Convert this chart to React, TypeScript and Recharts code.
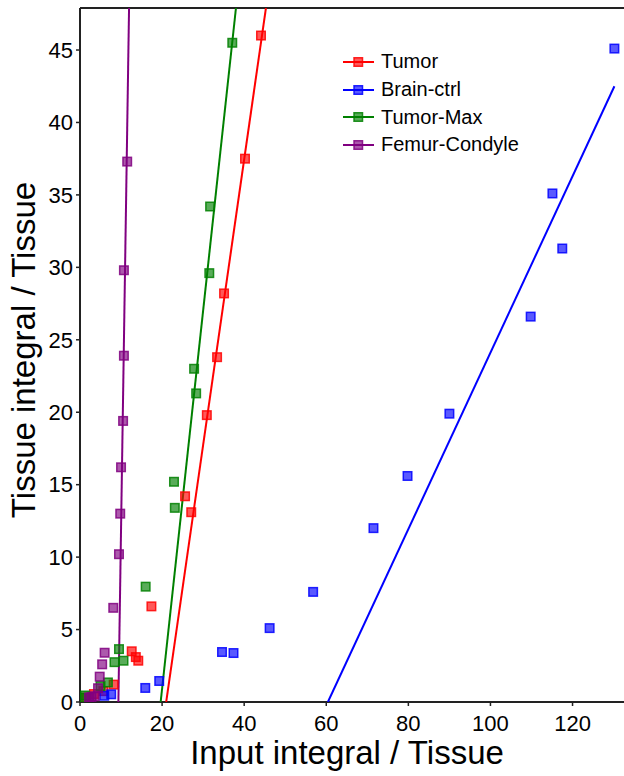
import React from 'react';
import { ScatterChart, Scatter, XAxis, YAxis, ReferenceLine } from 'recharts';

// measured points (input integral, tissue integral)
const tumor = [
  { x: 44.1, y: 46.0 }, { x: 40.2, y: 37.5 }, { x: 35.1, y: 28.2 }, { x: 33.4, y: 23.8 },
  { x: 30.9, y: 19.8 }, { x: 25.6, y: 14.2 }, { x: 27.1, y: 13.1 }, { x: 17.4, y: 6.6 },
  { x: 12.6, y: 3.5 }, { x: 13.6, y: 3.1 }, { x: 14.2, y: 2.85 }, { x: 8.2, y: 1.2 },
  { x: 5.7, y: 0.75 }, { x: 3.4, y: 0.55 }, { x: 1.5, y: 0.3 },
];
const brainCtrl = [
  { x: 130.2, y: 45.1 }, { x: 115.1, y: 35.1 }, { x: 117.5, y: 31.3 }, { x: 109.8, y: 26.6 },
  { x: 90.0, y: 19.9 }, { x: 79.8, y: 15.6 }, { x: 71.5, y: 12.0 }, { x: 56.8, y: 7.6 },
  { x: 46.2, y: 5.1 }, { x: 34.6, y: 3.45 }, { x: 37.4, y: 3.38 }, { x: 19.3, y: 1.45 },
  { x: 15.9, y: 0.97 }, { x: 7.6, y: 0.53 }, { x: 5.9, y: 0.43 },
];
const tumorMax = [
  { x: 37.1, y: 45.5 }, { x: 31.7, y: 34.2 }, { x: 31.5, y: 29.6 }, { x: 27.8, y: 23.0 },
  { x: 28.3, y: 21.3 }, { x: 22.9, y: 15.2 }, { x: 23.1, y: 13.4 }, { x: 16.0, y: 7.96 },
  { x: 9.5, y: 3.65 }, { x: 10.6, y: 2.85 }, { x: 8.4, y: 2.75 }, { x: 6.8, y: 1.35 },
  { x: 5.0, y: 1.1 }, { x: 1.2, y: 0.45 }, { x: 0.4, y: 0.3 },
];
const femurCondyle = [
  { x: 11.5, y: 37.3 }, { x: 10.7, y: 29.8 }, { x: 10.7, y: 23.9 }, { x: 10.5, y: 19.4 },
  { x: 10.0, y: 16.2 }, { x: 9.8, y: 13.0 }, { x: 9.5, y: 10.2 }, { x: 8.1, y: 6.5 },
  { x: 6.0, y: 3.4 }, { x: 5.4, y: 2.6 }, { x: 4.8, y: 1.75 }, { x: 4.4, y: 0.95 },
  { x: 3.6, y: 0.4 }, { x: 2.8, y: 0.35 }, { x: 2.2, y: 0.3 },
];

// fitted lines, end points
const tumorFit = [{ x: 21.0, y: 0 }, { x: 45.3, y: 47.9 }];
const brainCtrlFit = [{ x: 60.4, y: 0 }, { x: 130.2, y: 42.5 }];
const tumorMaxFit = [{ x: 19.65, y: 0 }, { x: 38.0, y: 47.9 }];
const femurCondyleFit = [{ x: 9.35, y: 0 }, { x: 11.95, y: 47.9 }];

const xTicks = [0, 20, 40, 60, 80, 100, 120];
const yTicks = [0, 5, 10, 15, 20, 25, 30, 35, 40, 45];

const X_MAX = 134;
const Y_MAX = 47.9;

const series = [
  { name: 'Tumor', color: '#ff0000', points: tumor, fit: tumorFit },
  { name: 'Brain-ctrl', color: '#0000ff', points: brainCtrl, fit: brainCtrlFit },
  { name: 'Tumor-Max', color: '#008000', points: tumorMax, fit: tumorMaxFit },
  { name: 'Femur-Condyle', color: '#800080', points: femurCondyle, fit: femurCondyleFit },
];

const FONT = '"Liberation Sans", Arial, sans-serif';

const squareShape = (color: string) => (props: any) => {
  const { cx, cy } = props;
  if (cx == null || cy == null) return <g />;
  return (
    <rect x={cx - 4.25} y={cy - 4.25} width={8.5} height={8.5}
      fill={color} fillOpacity={0.65} stroke={color} strokeOpacity={0.85} strokeWidth={1.5} />
  );
};

const noShape = () => <g />;

// legend drawn as plain html over the chart so it takes no room from the plot
const LegendBox = () => (
  <div style={{ position: 'absolute', left: 343, top: 48, fontFamily: FONT, fontSize: 20, color: '#000' }}>
    {series.map((s) => (
      <div key={s.name} style={{ display: 'flex', alignItems: 'center', height: 27.7 }}>
        <svg width={38} height={14} style={{ display: 'block' }}>
          <line x1={0} y1={7} x2={31} y2={7} stroke={s.color} strokeWidth={2} />
          <rect x={11} y={2.75} width={8.5} height={8.5} fill={s.color} fillOpacity={0.65}
            stroke={s.color} strokeOpacity={0.85} strokeWidth={1.5} />
        </svg>
        <span>{s.name}</span>
      </div>
    ))}
  </div>
);

const YTitle = () => (
  <text x={35} y={350} transform="rotate(-90 35 350)" textAnchor="middle"
    fontFamily={FONT} fontSize={33} fill="#000">
    Tissue integral / Tissue
  </text>
);

const XTitle = () => (
  <text x={347} y={764} textAnchor="middle" fontFamily={FONT} fontSize={33} fill="#000">
    Input integral / Tissue
  </text>
);

export default function App() {
  return (
    <div style={{ position: 'absolute', left: 0, top: 0, width: 624, height: 776, overflow: 'hidden', background: '#fff' }}>
      <ScatterChart width={640} height={776} margin={{ top: 8, right: 10, bottom: 0, left: 0 }}>
        <XAxis type="number" dataKey="x" domain={[0, X_MAX]} ticks={xTicks} allowDataOverflow
          height={74} tickSize={4} tickMargin={9}
          axisLine={{ stroke: '#222', strokeWidth: 2 }} tickLine={{ stroke: '#222', strokeWidth: 1.5 }}
          tick={{ fontFamily: FONT, fontSize: 22, fill: '#000' }}
          label={{ content: XTitle }} />
        <YAxis type="number" dataKey="y" domain={[0, Y_MAX]} ticks={yTicks} allowDataOverflow
          width={80} tickSize={4} tickMargin={3}
          axisLine={{ stroke: '#222', strokeWidth: 2 }} tickLine={{ stroke: '#222', strokeWidth: 1.5 }}
          tick={{ fontFamily: FONT, fontSize: 22, fill: '#000' }}
          label={{ content: YTitle }} />
        <ReferenceLine y={Y_MAX} stroke="#222" strokeWidth={2} />
        {series.map((s) => (
          <Scatter key={s.name + '-fit'} name={s.name + ' fit'} data={s.fit} shape={noShape}
            line={{ stroke: s.color, strokeWidth: 2 }} legendType="none" isAnimationActive={false} />
        ))}
        {series.map((s) => (
          <Scatter key={s.name} name={s.name} data={s.points} shape={squareShape(s.color)}
            fill={s.color} isAnimationActive={false} />
        ))}
      </ScatterChart>
      <LegendBox />
    </div>
  );
}
